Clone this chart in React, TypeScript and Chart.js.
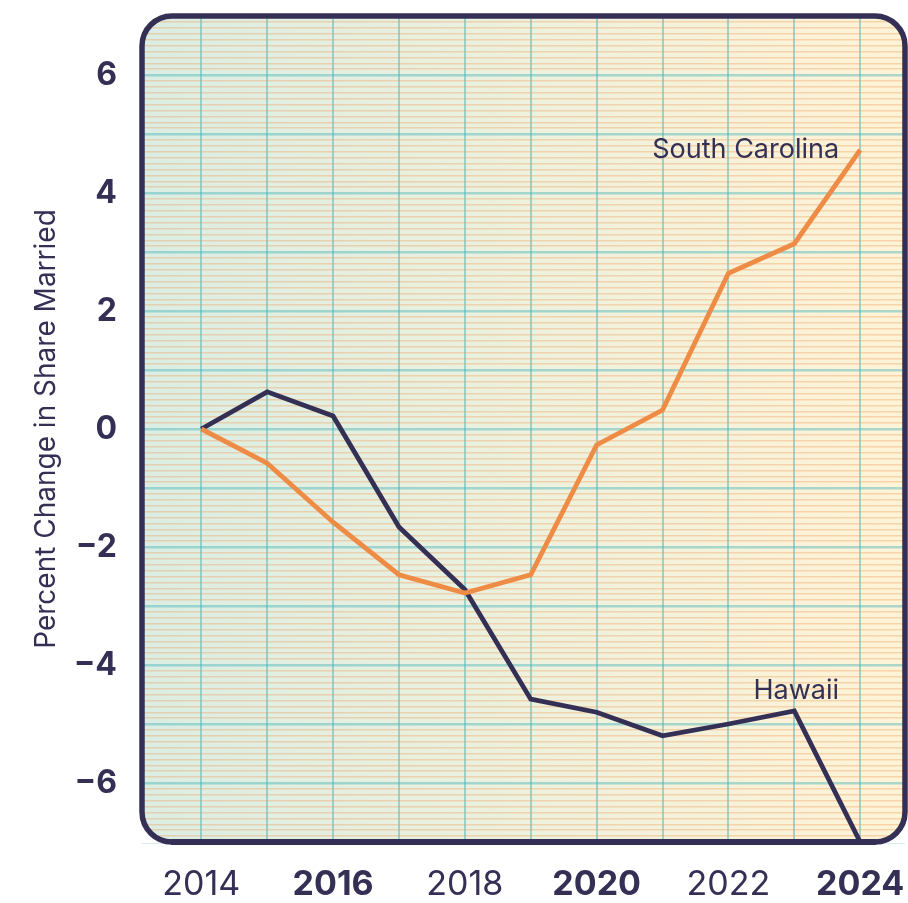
import React, { useEffect, useRef, useState } from 'react';
import { Chart, registerables } from 'chart.js';

Chart.register(...registerables);

// ---- data ----
const years = [2014, 2015, 2016, 2017, 2018, 2019, 2020, 2021, 2022, 2023, 2024];
const hawaii = [0, 0.63, 0.22, -1.66, -2.72, -4.58, -4.8, -5.2, -5.0, -4.78, -7.0];
const southCarolina = [0, -0.58, -1.58, -2.47, -2.78, -2.47, -0.27, 0.32, 2.64, 3.14, 4.73];
const xTickLabels = [2014, 2016, 2018, 2020, 2022, 2024];
const boldYears = [2016, 2020, 2024];
const yTickLabels = [-6, -4, -2, 0, 2, 4, 6];
const seriesNames = ['South Carolina', 'Hawaii'];
const labelAnchorX = [2023.68, 2023.68];
const labelAnchorY = [4.73, -4.44];

const NAVY = '#342f54';
const ORANGE = '#ee8b45';
const FONT = 'Inter, "Noto Sans", sans-serif';
const RADIUS = 30;
const FRAME_W = 5.5;

function roundRectPath(ctx: CanvasRenderingContext2D, l: number, t: number, r: number, b: number, rad: number, begin = true) {
  if (begin) ctx.beginPath();
  ctx.moveTo(l + rad, t);
  ctx.lineTo(r - rad, t);
  ctx.arcTo(r, t, r, t + rad, rad);
  ctx.lineTo(r, b - rad);
  ctx.arcTo(r, b, r - rad, b, rad);
  ctx.lineTo(l + rad, b);
  ctx.arcTo(l, b, l, b - rad, rad);
  ctx.lineTo(l, t + rad);
  ctx.arcTo(l, t, l + rad, t, rad);
  ctx.closePath();
}

const paperPlugin = {
  id: 'paper',
  beforeDraw(chart: any) {
    const { ctx, chartArea } = chart;
    const { left, top, right, bottom } = chartArea;
    ctx.save();
    roundRectPath(ctx, left, top, right, bottom, RADIUS);
    const g = ctx.createLinearGradient(left, 0, right, 0);
    g.addColorStop(0, '#dbede3');
    g.addColorStop(0.5, '#edf1de');
    g.addColorStop(1, '#fef3d7');
    ctx.fillStyle = g;
    ctx.fill();
    ctx.restore();
  },
  afterDraw(chart: any) {
    const { ctx, chartArea, scales } = chart;
    const left = Math.round(chartArea.left);
    const top = Math.round(chartArea.top);
    const right = Math.round(chartArea.right);
    const bottom = Math.round(chartArea.bottom);
    ctx.save();
    // white out corners outside the rounded frame
    ctx.beginPath();
    ctx.rect(left - 1, top - 1, right - left + 2, bottom - top + 2);
    roundRectPath(ctx, left, top, right, bottom, RADIUS, false);
    ctx.fillStyle = '#ffffff';
    ctx.fill('evenodd');
    // frame
    ctx.lineWidth = FRAME_W;
    ctx.strokeStyle = NAVY;
    roundRectPath(ctx, left, top, right, bottom, RADIUS);
    ctx.stroke();
    // series labels
    ctx.fillStyle = NAVY;
    ctx.font = `400 27px ${FONT}`;
    ctx.textAlign = 'right';
    ctx.textBaseline = 'middle';
    seriesNames.forEach((name, i) => {
      const x = scales.x.getPixelForValue(labelAnchorX[i]);
      const y = scales.y.getPixelForValue(labelAnchorY[i]);
      ctx.fillText(name, x, y);
    });
    ctx.restore();
  },
};

export default function App() {
  const canvasRef = useRef<HTMLCanvasElement | null>(null);
  const [area, setArea] = useState<{ left: number; right: number; bottom: number } | null>(null);

  useEffect(() => {
    const canvas = canvasRef.current;
    if (!canvas) return;
    const chart = new Chart(canvas, {
      type: 'line',
      data: {
        datasets: [
          {
            label: 'South Carolina',
            data: years.map((y, i) => ({ x: y, y: southCarolina[i] })),
            borderColor: ORANGE,
            borderWidth: 4.8,
            pointRadius: 0,
            tension: 0,
            order: 0,
          },
          {
            label: 'Hawaii',
            data: years.map((y, i) => ({ x: y, y: hawaii[i] })),
            borderColor: NAVY,
            borderWidth: 4.8,
            pointRadius: 0,
            tension: 0,
            order: 1,
          },
        ],
      },
      options: {
        animation: false,
        responsive: false,
        maintainAspectRatio: false,
        devicePixelRatio: 1,
        layout: { padding: { top: 16, right: 3, left: 0, bottom: 0 } },
        plugins: {
          legend: { display: false },
          tooltip: { enabled: false },
        },
        scales: {
          x: {
            type: 'linear',
            min: 2013.1,
            max: 2024.68,
            afterBuildTicks: (scale: any) => {
              scale.ticks = years.map((v) => ({ value: v }));
            },
            afterFit: (scale: any) => {
              scale.height = 61;
              scale.paddingLeft = 0;
              scale.paddingRight = 0;
              scale.paddingTop = 0;
              scale.paddingBottom = 0;
            },
            border: { display: false },
            grid: {
              drawTicks: false,
              color: 'rgba(70,180,185,0.5)',
              lineWidth: 2,
            },
            ticks: {
              autoSkip: false,
              maxRotation: 0,
              padding: 22,
              color: NAVY,
              font: (ctx: any) => ({
                family: FONT,
                size: 34,
                weight: boldYears.includes(ctx.tick?.value) ? 'bold' : 'normal',
              }),
              callback: (v: any) => (xTickLabels.includes(v) ? String(v) : ''),
            },
          },
          y: {
            type: 'linear',
            min: -7,
            max: 7,
            afterBuildTicks: (scale: any) => {
              const t = [];
              for (let i = -70; i <= 70; i++) t.push({ value: i / 10 });
              scale.ticks = t;
            },
            afterFit: (scale: any) => {
              scale.width = 142;
              scale.paddingLeft = 0;
              scale.paddingRight = 0;
              scale.paddingTop = 0;
              scale.paddingBottom = 0;
            },
            border: { display: false },
            grid: {
              drawTicks: false,
              color: (ctx: any) => {
                const v = ctx.tick?.value ?? 0;
                return Math.abs(v - Math.round(v)) < 1e-6 ? 'rgba(70,180,185,0.45)' : 'rgba(240,150,80,0.34)';
              },
              lineWidth: (ctx: any) => {
                const v = ctx.tick?.value ?? 0;
                return Math.abs(v - Math.round(v)) < 1e-6 ? 2.5 : 1.4;
              },
            },
            ticks: {
              autoSkip: false,
              padding: 25,
              color: NAVY,
              font: { family: FONT, size: 32, weight: 'bold' },
              callback: (v: any) => {
                const r = Math.round(v * 10) / 10;
                if (!yTickLabels.includes(r)) return '';
                return r < 0 ? '\u2212' + Math.abs(r) : String(r);
              },
            },
            title: {
              display: true,
              text: 'Percent Change in Share Married',
              color: NAVY,
              font: { family: FONT, size: 28, weight: 'normal' },
              padding: { top: 30, bottom: 0 },
            },
          },
        },
      },
      plugins: [paperPlugin],
    });
    const ca = chart.chartArea;
    setArea({ left: Math.round(ca.left), right: Math.round(ca.right), bottom: Math.round(ca.bottom) });
    return () => chart.destroy();
  }, []);

  return (
    <div style={{ position: 'fixed', left: 0, top: 0, width: 908, height: 903, background: '#fff' }}>
      <canvas ref={canvasRef} width={908} height={903} style={{ display: 'block', width: 908, height: 903 }} />
      {area && (
        <div
          style={{
            position: 'absolute',
            left: area.left + RADIUS - 1,
            top: area.bottom - FRAME_W / 2,
            width: area.right - area.left - 2 * RADIUS + 2,
            height: FRAME_W,
            background: NAVY,
            pointerEvents: 'none',
          }}
        />
      )}
    </div>
  );
}
